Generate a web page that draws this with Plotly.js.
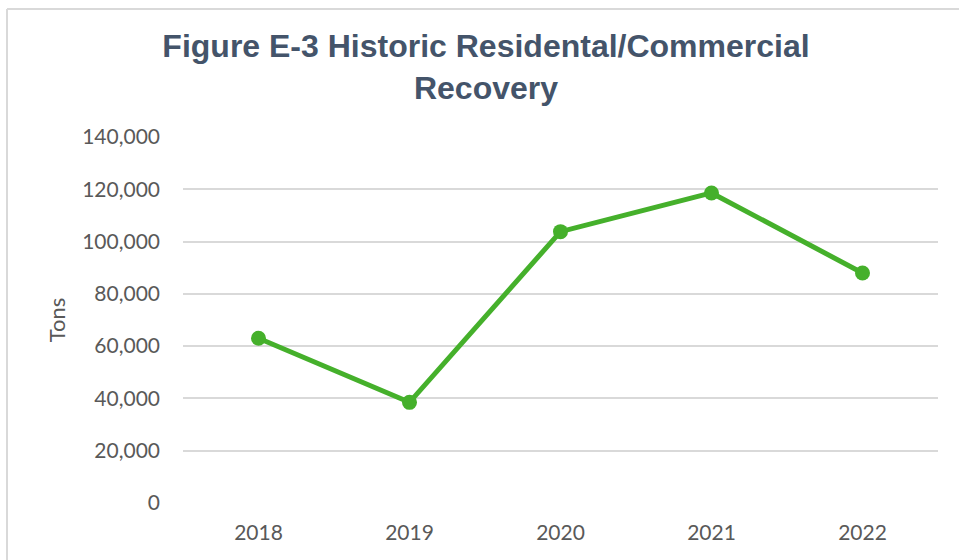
<!DOCTYPE html>
<html>
<head>
<meta charset="utf-8">
<script src="https://cdn.plot.ly/plotly-3.0.1.min.js"></script>
<style>html,body{margin:0;padding:0;background:#fff;}#chart{width:959px;height:560px;}</style>
</head>
<body>
<div id="chart"></div>
<script>
const years = ["2018", "2019", "2020", "2021", "2022"];
const tons = [63000, 38500, 103800, 118600, 88000];
const yTickVals = [0, 20000, 40000, 60000, 80000, 100000, 120000, 140000];
const yTickText = ["0", "20,000", "40,000", "60,000", "80,000", "100,000", "120,000", "140,000"];

const W = 959, H = 560;
const m = {l: 183, r: 21, t: 137, b: 57};
const pw = W - m.l - m.r, ph = H - m.t - m.b;
const px = v => (v - m.l) / pw;
const py = v => (H - m.b - v) / ph;

const trace = {
  x: years, y: tons, type: 'scatter', mode: 'lines+markers',
  line: {color: '#45B02B', width: 5},
  marker: {color: '#45B02B', size: 15},
  hoverinfo: 'skip'
};

const layout = {
  width: W, height: H,
  margin: m,
  paper_bgcolor: '#ffffff', plot_bgcolor: '#ffffff',
  showlegend: false,
  title: {
    text: '<b>Figure E-3 Historic Residental/Commercial<br>Recovery</b>',
    font: {family: 'Liberation Sans, Arial, sans-serif', size: 32, color: '#44546A'},
    x: px(486), xref: 'paper', xanchor: 'center',
    y: 1 - 57/H, yref: 'container', yanchor: 'middle'
  },
  xaxis: {
    type: 'category', range: [-0.5, 4.5],
    showgrid: false, zeroline: false, showline: false, ticks: '',
    tickfont: {family: 'Lato, sans-serif', size: 21, color: '#595959'},
    ticklabelstandoff: 15, fixedrange: true
  },
  yaxis: {
    range: [0, 140000], tickvals: yTickVals, ticktext: yTickText,
    showgrid: true, gridcolor: '#D9D9D9', gridwidth: 2,
    zeroline: false, showline: false, ticks: '',
    tickfont: {family: 'Lato, sans-serif', size: 21, color: '#595959'},
    ticklabelstandoff: 22,
    title: {text: 'Tons', font: {family: 'Lato, sans-serif', size: 22, color: '#595959'}, standoff: 10},
    fixedrange: true
  },
  shapes: [
    {type: 'line', xref: 'paper', yref: 'paper', x0: px(7), x1: px(7), y0: py(9), y1: py(600),
     line: {color: '#D9D9D9', width: 2}, layer: 'below'},
    {type: 'line', xref: 'paper', yref: 'paper', x0: px(7), x1: px(1000), y0: py(9), y1: py(9),
     line: {color: '#D9D9D9', width: 2}, layer: 'below'}
  ]
};

Plotly.newPlot('chart', [trace], layout, {displayModeBar: false, staticPlot: true});
</script>
</body>
</html>
